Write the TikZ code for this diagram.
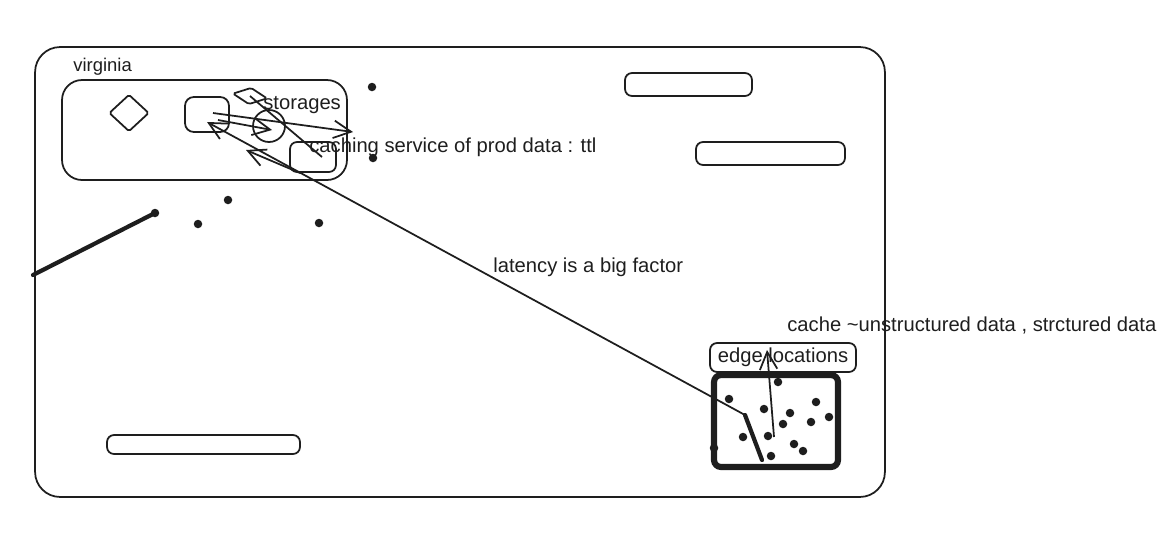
\documentclass[tikz,border=0pt]{standalone}
\usepackage{fontspec}
\setmainfont{Liberation Sans}
\usetikzlibrary{arrows.meta, shapes.geometric}
\definecolor{ink}{HTML}{1E1E1E}

\begin{document}
\begin{tikzpicture}[
    x=0.02cm, y=-0.02cm, % one unit is one pixel of the sketch
    >={Straight Barb[length=3.5mm, width=3.5mm]}, % open arrow tips
    note/.style={anchor=west, inner sep=0pt, text=ink, font=\fontsize{11.5pt}{14pt}\selectfont}, % free text
    box/.style={draw=ink, line width=1pt, rounded corners=4pt, inner sep=0pt}, % outlined shapes
    bar/.style={box, minimum height=0.46cm}, % empty flat boxes
    link/.style={draw=ink, line width=1pt}, % thin connectors
    heavy/.style={draw=ink, line width=2.4pt, line cap=round} % thick strokes
]
    \useasboundingbox (0,0) rectangle (1168,545);

    % Outer frame
    \node[box, rounded corners=0.5cm, minimum width=17cm, minimum height=9cm] (frame) at (460,272) {};

    % Virginia region and its contents
    \node[note, font=\fontsize{10.5pt}{13pt}\selectfont] (vlabel) at (73,67) {virginia};
    \node[box, rounded corners=0.4cm, minimum width=5.7cm, minimum height=2cm] (region) at (204.5,130) {};
    \node[box, diamond, rounded corners=1pt, minimum width=0.8cm, minimum height=0.74cm] (gem) at (129,113) {};
    \node[box, rounded corners=5pt, minimum width=0.88cm, minimum height=0.7cm] (square) at (207,114.5) {};
    \node[box, diamond, rounded corners=1pt, minimum width=0.7cm, minimum height=0.34cm, rotate=-8] (flat) at (250,96) {};
    \node[box, circle, minimum size=0.64cm] (ring) at (269,126) {};
    \node[box, minimum width=0.92cm, minimum height=0.6cm] (store) at (313,157) {};
    \node[note] (storages) at (263,105) {storages};
    \node[note] (caching) at (309,147) {caching service of prod data : ttl};

    % Empty bars
    \node[bar, minimum width=2.54cm] (bar1) at (688.5,84.5) {};
    \node[bar, minimum width=2.98cm] (bar2) at (770.5,153.5) {};
    \node[bar, minimum width=3.86cm, minimum height=0.38cm] (bar3) at (203.5,444.5) {};

    % Edge locations
    \node[box, font=\fontsize{11.5pt}{14pt}\selectfont, text=ink, minimum width=2.92cm, minimum height=0.58cm] (edgelbl) at (783,357.5) {edge locations};
    \node[box, line width=3.5pt, rounded corners=4pt, minimum width=2.48cm, minimum height=1.84cm] (edgearea) at (776,421) {};

    % Other notes
    \node[note] (latency) at (493,267) {latency is a big factor};
    \node[note] (cachenote) at (787,325) {cache \textasciitilde unstructured data , strctured data};

    % Loose dots
    \foreach \p in {(372,87), (373,158), (228,200), (198,224), (319,223), (155,213),
        (778,382), (729,399), (816,402), (764,409), (790,413), (783,424), (811,422),
        (829,417), (743,437), (768,436), (794,444), (803,451), (771,456), (714,448)}
        \fill[ink] \p circle (0.085cm);

    % Free ends
    \coordinate (wall) at (33,275);
    \coordinate (stubend) at (155,213);
    \coordinate (far) at (353,132);
    \coordinate (hit) at (745,415);
    \coordinate (hitend) at (762,460);
    \coordinate (split) at (300,173);
    \coordinate (mid) at (246,150);
    \coordinate (rise) at (774,437);
    \coordinate (risetop) at (767,350);

    % Connectors
    \draw[heavy] (wall) -- (stubend);
    \draw[link, ->] ([shift={(0.12cm,0.03cm)}]square.center) -- (far);
    \draw[link, ->] ([shift={(0.22cm,-0.11cm)}]square.center) -- ([shift={(0.06cm,-0.08cm)}]ring.center);
    \draw[link] (flat.center) -- ([xshift=0.18cm]store.center);
    \draw[link, ->] (hit) -- ([yshift=-0.15cm]square.center);
    \draw[link, ->] (split) -- (mid);
    \draw[heavy] (hit) -- (hitend);
    \draw[link, ->] (rise) -- (risetop);

\end{tikzpicture}
\end{document}
